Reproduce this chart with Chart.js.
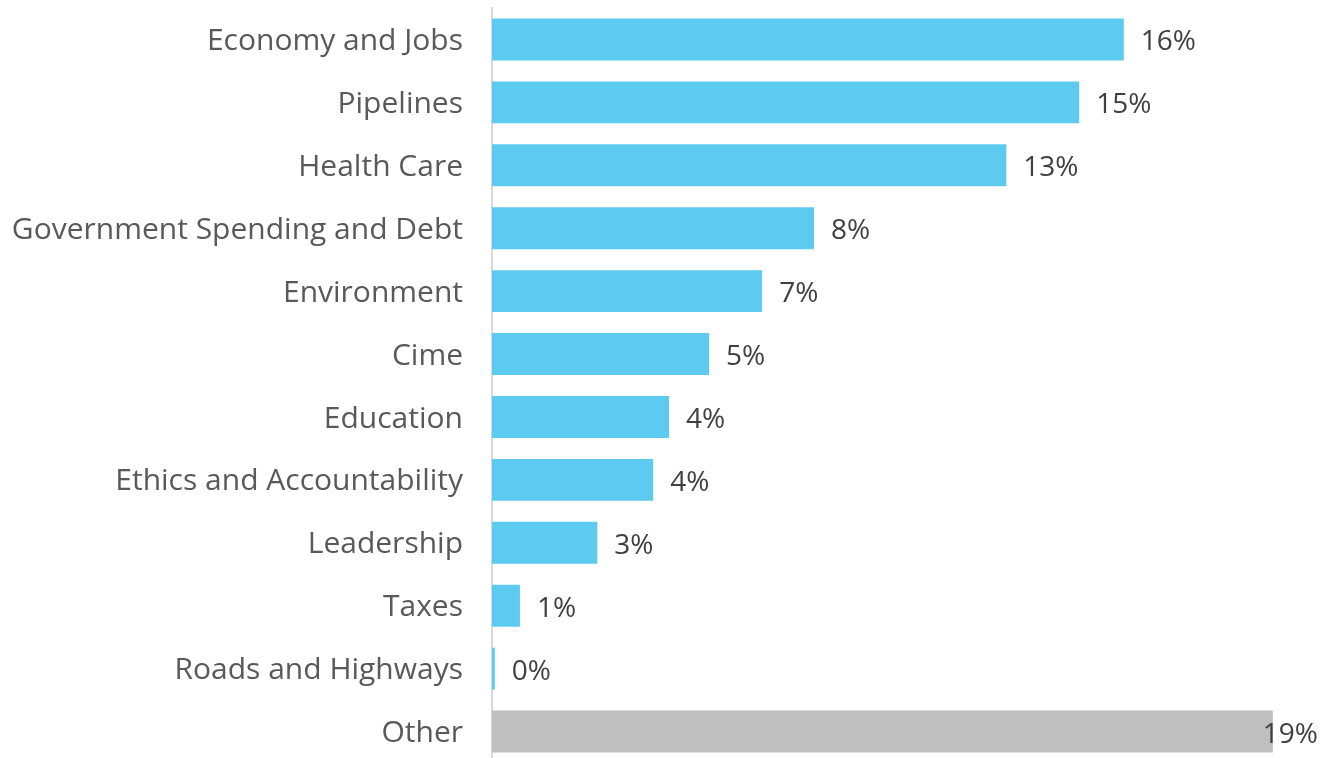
<!DOCTYPE html>
<html lang="en">
<head>
  <meta charset="UTF-8">
  <title>Most important issue</title>
  <script src="https://cdn.jsdelivr.net/npm/chart.js"></script>
  <style>
    html, body {
      margin: 0;
      padding: 0;
      background: #ffffff;
      overflow: hidden;
    }
    #wrap {
      width: 1321px;
      height: 766px;
    }
  </style>
</head>
<body>
  <div id="wrap">
    <canvas id="issues"></canvas>
  </div>

  <script>
    const categories = [
      'Economy and Jobs', 'Pipelines', 'Health Care', 'Government Spending and Debt',
      'Environment', 'Cime', 'Education', 'Ethics and Accountability',
      'Leadership', 'Taxes', 'Roads and Highways', 'Other'
    ];
    // shares in %
    const shares = [15.6, 14.5, 12.7, 7.95, 6.67, 5.36, 4.37, 3.98, 2.6, 0.69, 0.07, 19.28];
    const barColors = [
      '#5DCBEF', '#5DCBEF', '#5DCBEF', '#5DCBEF', '#5DCBEF', '#5DCBEF',
      '#5DCBEF', '#5DCBEF', '#5DCBEF', '#5DCBEF', '#5DCBEF', '#BFBFBF'
    ];

    const FONT = '"Open Sans", "Noto Sans", sans-serif';

    // writes "16%" etc. next to each bar
    const valueLabels = {
      id: 'valueLabels',
      afterDatasetsDraw(chart) {
        const ctx = chart.ctx;
        const meta = chart.getDatasetMeta(0);
        ctx.save();
        ctx.font = '28px ' + FONT;
        ctx.fillStyle = '#404040';
        ctx.textBaseline = 'middle';
        ctx.textAlign = 'left';
        meta.data.forEach((bar, i) => {
          const txt = Math.round(shares[i]) + '%';
          const w = ctx.measureText(txt).width;
          let x = bar.x + 17;
          if (x + w > chart.width - 3) x = chart.width - 3 - w;
          ctx.fillText(txt, x, bar.y + 3);
        });
        ctx.restore();
      }
    };

    new Chart(document.getElementById('issues'), {
      type: 'bar',
      data: {
        labels: categories,
        datasets: [{
          data: shares,
          backgroundColor: barColors,
          borderWidth: 0,
          barPercentage: 0.667,
          categoryPercentage: 1
        }]
      },
      options: {
        indexAxis: 'y',
        responsive: true,
        maintainAspectRatio: false,
        animation: false,
        layout: {
          padding: { top: 8, bottom: 3, left: 0, right: 19 }
        },
        plugins: {
          legend: { display: false },
          tooltip: { enabled: false }
        },
        scales: {
          x: {
            display: false,
            min: 0,
            max: 20
          },
          y: {
            grid: { display: false, drawTicks: false },
            border: { display: true, color: '#D9D9D9', width: 2 },
            ticks: {
              color: '#595959',
              padding: 29,
              labelOffset: 2,
              font: { family: FONT, size: 30 }
            },
            afterFit(scale) {
              scale.width = 492;
              scale.paddingTop = 0;
              scale.paddingBottom = 0;
            }
          }
        }
      },
      plugins: [valueLabels]
    });
  </script>
</body>
</html>
